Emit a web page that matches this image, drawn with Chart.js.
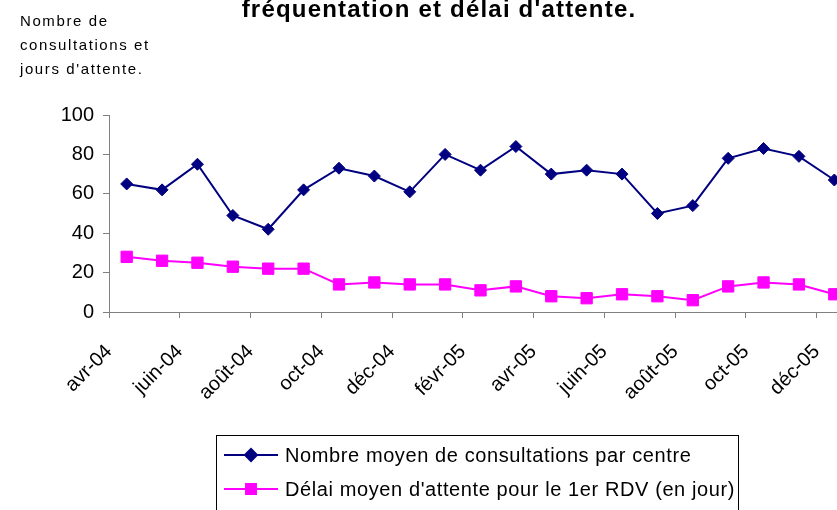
<!DOCTYPE html>
<html>
<head>
<meta charset="utf-8">
<script src="https://cdn.jsdelivr.net/npm/chart.js@4.4.1/dist/chart.umd.min.js"></script>
<style>
  html, body { margin: 0; padding: 0; background: #fff; overflow: hidden; }
  #wrap { position: relative; width: 837px; height: 510px; overflow: hidden; }
  canvas { position: absolute; left: 0; top: 0; }
</style>
</head>
<body>
<div id="wrap"><canvas id="chart" width="880" height="510"></canvas></div>
<script>
// data (avr-04 .. déc-05)
const months = ["avr-04", "mai-04", "juin-04", "juil-04", "août-04", "sept-04", "oct-04", "nov-04", "déc-04",
  "janv-05", "févr-05", "mars-05", "avr-05", "mai-05", "juin-05", "juil-05", "août-05", "sept-05", "oct-05", "nov-05", "déc-05"];
const consultations = [65, 62, 75, 49, 42, 62, 73, 69, 61, 80, 72, 84, 70, 72, 70, 50, 54, 78, 83, 79, 67];
const delai = [28, 26, 25, 23, 22, 22, 14, 15, 14, 14, 11, 13, 8, 7, 9, 8, 6, 13, 15, 14, 9];
const tickLabels = ["avr-04", "juin-04", "août-04", "oct-04", "déc-04", "févr-05", "avr-05", "juin-05", "août-05", "oct-05", "déc-05"];
const yTicks = [0, 20, 40, 60, 80, 100];

const titleText = "fréquentation et délai d'attente.";
const yTitle = ["Nombre de", "consultations et", "jours d'attente."];
const seriesNames = ["Nombre moyen de consultations par centre", "Délai moyen d'attente pour le 1er RDV (en jour)"];

const FONT = "'Liberation Sans', Arial, sans-serif";
Chart.defaults.font.family = FONT;
Chart.defaults.color = "#000";

// titles and boxed legend, drawn on top of the chart
const textPlugin = {
  id: "texts",
  afterDraw(chart) {
    const ctx = chart.ctx;
    ctx.save();
    ctx.fillStyle = "#000";

    // title (first line is outside the picture)
    ctx.font = "bold 24px " + FONT;
    ctx.letterSpacing = "1.2px";
    ctx.textAlign = "center";
    ctx.textBaseline = "alphabetic";
    ctx.fillText(titleText, 439, 17);

    // y axis title
    ctx.font = "15px " + FONT;
    ctx.letterSpacing = "1.6px";
    ctx.textAlign = "left";
    yTitle.forEach((line, i) => ctx.fillText(line, 20, 26 + i * 24));

    // legend
    ctx.letterSpacing = "0.6px";
    ctx.strokeStyle = "#000";
    ctx.lineWidth = 1;
    ctx.strokeRect(216.5, 435.5, 522, 90);
    ctx.font = "20px " + FONT;
    ctx.textBaseline = "middle";
    chart.data.datasets.forEach((ds, i) => {
      const y = 455 + i * 34;
      ctx.strokeStyle = ds.borderColor;
      ctx.lineWidth = 2;
      ctx.beginPath();
      ctx.moveTo(224, y);
      ctx.lineTo(278, y);
      ctx.stroke();
      ctx.fillStyle = ds.backgroundColor;
      ctx.strokeStyle = ds.borderColor;
      Chart.helpers.drawPoint(ctx, { pointStyle: ds.pointStyle, radius: i === 0 ? 6 : 7, rotation: 0, borderWidth: 1 }, 251, y);
      ctx.fillStyle = "#000";
      ctx.fillText(ds.label, 285, y + 1);
    });
    ctx.restore();
  }
};

new Chart(document.getElementById("chart"), {
  type: "line",
  data: {
    datasets: [
      {
        label: seriesNames[0],
        data: consultations.map((v, i) => ({ x: i, y: v })),
        borderColor: "#000080",
        backgroundColor: "#000080",
        borderWidth: 2,
        pointStyle: "rectRot",
        pointRadius: 6,
        pointBorderWidth: 1
      },
      {
        label: seriesNames[1],
        data: delai.map((v, i) => ({ x: i, y: v })),
        borderColor: "#FF00FF",
        backgroundColor: "#FF00FF",
        borderWidth: 2,
        pointStyle: "rect",
        pointRadius: 8,
        pointBorderWidth: 1
      }
    ]
  },
  options: {
    responsive: false,
    animation: false,
    devicePixelRatio: 1,
    layout: { padding: { top: 115, right: 28, bottom: 0, left: 0 } },
    plugins: {
      legend: { display: false },
      tooltip: { enabled: false }
    },
    scales: {
      x: {
        type: "linear",
        min: -0.5,
        max: months.length - 0.5,
        afterFit(scale) { scale.height = 198; },
        afterBuildTicks(scale) {
          scale.ticks = tickLabels.map(l => ({ value: months.indexOf(l) - 0.5 }));
        },
        grid: { drawOnChartArea: false, drawTicks: true, tickLength: 6, color: "#808080" },
        border: { display: true, color: "#808080", width: 1 },
        ticks: {
          autoSkip: false,
          minRotation: 45,
          maxRotation: 45,
          padding: 22,
          font: { size: 20 },
          callback: (value) => months[Math.round(value + 0.5)]
        }
      },
      y: {
        min: 0,
        max: 100,
        afterFit(scale) { scale.width = 109; },
        afterBuildTicks(scale) {
          scale.ticks = yTicks.map(v => ({ value: v }));
        },
        grid: { drawOnChartArea: false, drawTicks: true, tickLength: 6, color: "#808080" },
        border: { display: true, color: "#808080", width: 1 },
        ticks: { padding: 9, font: { size: 20 } }
      }
    }
  },
  plugins: [textPlugin]
});
</script>
</body>
</html>
